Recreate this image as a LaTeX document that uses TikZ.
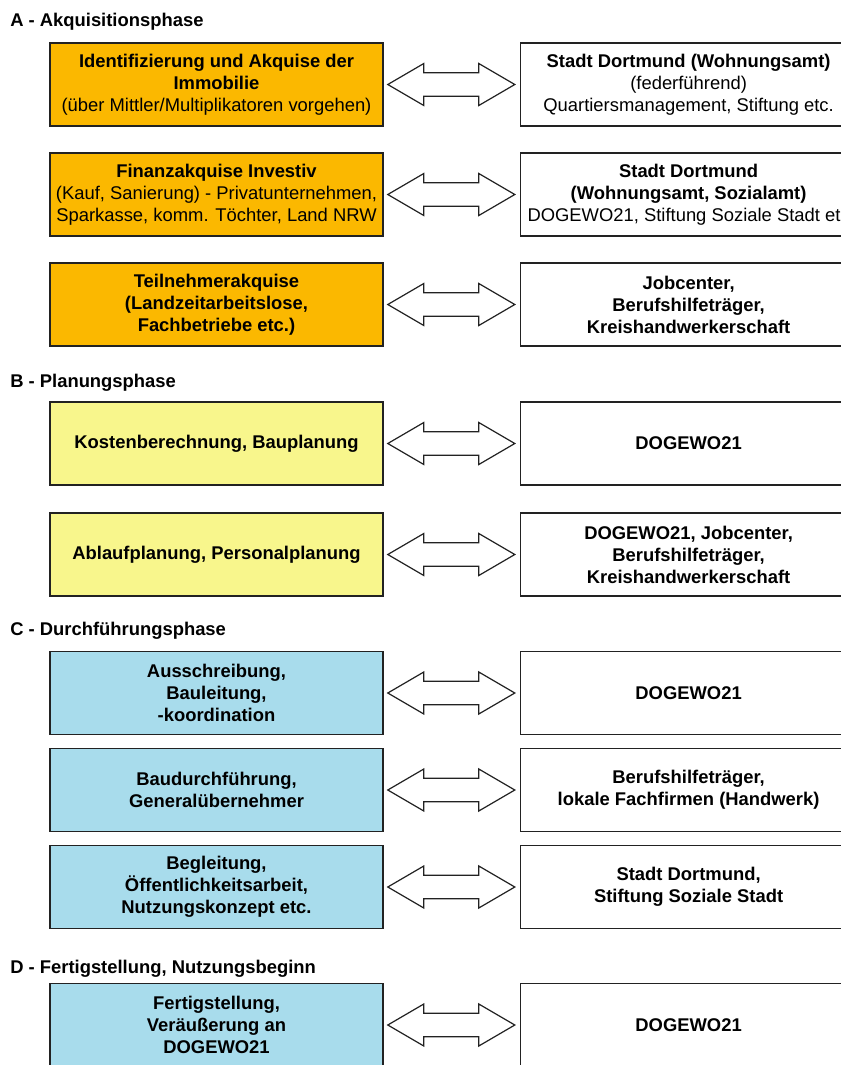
\documentclass[tikz,border=0pt]{standalone}
\usepackage{fontspec}
\setmainfont{Liberation Sans}
\usepackage{xcolor}
\usepackage{tikz}
\usetikzlibrary{calc}
\usetikzlibrary{positioning}
\definecolor{akqorange}{HTML}{FBB800}
\definecolor{planyellow}{HTML}{F8F68C}
\definecolor{durchblue}{HTML}{A8DCEC}
\definecolor{rahmen}{HTML}{222222}
\tikzset{box/.style ={draw=rahmen, line width=1.2pt, minimum width=249.75pt, minimum height=62.25pt, align=center, inner sep=0pt, font=\bfseries}}
\tikzset{partner/.style ={box, fill=white, minimum width=252pt}}
\tikzset{phase/.style ={anchor=base west, inner sep=0pt, font=\bfseries}}
\tikzset{pfeil/.style ={draw=rahmen, line width=0.9pt, fill=white, line join=miter}}

\begin{document}
\fontsize{13.8pt}{16.5pt}\selectfont
\begin{tikzpicture}[x=0.75pt, y=-0.75pt]
\useasboundingbox (0,0) rectangle (841,1065);
\clip (0,0) rectangle (841,1065);
% Phasen
\node[phase] (pa) at (10,26) {A - Akquisitionsphase};
\node[phase] (pb) at (10,387) {B - Planungsphase};
\node[phase] (pc) at (10,635) {C - Durchführungsphase};
\node[phase] (pd) at (10,973) {D - Fertigstellung, Nutzungsbeginn};
% linke Spalte
\node[box, fill=akqorange] (l1) at (216.5,84.5) {Identifizierung und Akquise der\\Immobilie\\\mdseries(über Mittler/Multiplikatoren vorgehen)};
\node[box, fill=akqorange] (l2) at (216.5,194.5) {Finanzakquise Investiv\\\mdseries(Kauf, Sanierung) - Privatunternehmen,\\\mdseries Sparkasse, komm. Töchter, Land NRW};
\node[box, fill=akqorange] (l3) at (216.5,304.5) {Teilnehmerakquise\\(Landzeitarbeitslose,\\Fachbetriebe etc.)};
\node[box, fill=planyellow] (l4) at (216.5,443.5) {Kostenberechnung, Bauplanung};
\node[box, fill=planyellow] (l5) at (216.5,554.5) {Ablaufplanung, Personalplanung};
\node[box, fill=durchblue] (l6) at (216.5,693) {Ausschreibung,\\Bauleitung,\\-koordination};
\node[box, fill=durchblue] (l7) at (216.5,790) {Baudurchführung,\\Generalübernehmer};
\node[box, fill=durchblue] (l8) at (216.5,887) {Begleitung,\\Öffentlichkeitsarbeit,\\Nutzungskonzept etc.};
\node[box, fill=durchblue] (l9) at (216.5,1025) {Fertigstellung,\\Veräußerung an\\DOGEWO21};
% rechte Spalte
\node[partner, right=102pt of l1] (r1) {Stadt Dortmund (Wohnungsamt)\\\mdseries(federführend)\\\mdseries Quartiersmanagement, Stiftung etc.};
\node[partner, right=102pt of l2] (r2) {Stadt Dortmund\\(Wohnungsamt, Sozialamt)\\\makebox[0pt]{\mdseries DOGEWO21, Stiftung Soziale Stadt etc}};
\node[partner, right=102pt of l3] (r3) {Jobcenter,\\Berufshilfeträger,\\Kreishandwerkerschaft};
\node[partner, right=102pt of l4] (r4) {DOGEWO21};
\node[partner, right=102pt of l5] (r5) {DOGEWO21, Jobcenter,\\Berufshilfeträger,\\Kreishandwerkerschaft};
\node[partner, right=102pt of l6] (r6) {DOGEWO21};
\node[partner, right=102pt of l7] (r7) {Berufshilfeträger,\\lokale Fachfirmen (Handwerk)};
\node[partner, right=102pt of l8] (r8) {Stadt Dortmund,\\Stiftung Soziale Stadt};
\node[partner, right=102pt of l9] (r9) {DOGEWO21};
% Doppelpfeile
\foreach \i in {1,...,9}
  \draw[pfeil] ($(l\i.east)+(3pt,0)$) -- ++(27pt,15.75pt) -- ++(0,-6.95pt)
    -- ($(r\i.west)+(-30.75pt,8.8pt)$) -- ++(0,6.95pt) -- ($(r\i.west)+(-3.75pt,0)$)
    -- ++(-27pt,-15.75pt) -- ++(0,6.95pt)
    -- ($(l\i.east)+(30pt,-8.8pt)$) -- ++(0,-6.95pt) -- cycle;
\end{tikzpicture}
\end{document}
